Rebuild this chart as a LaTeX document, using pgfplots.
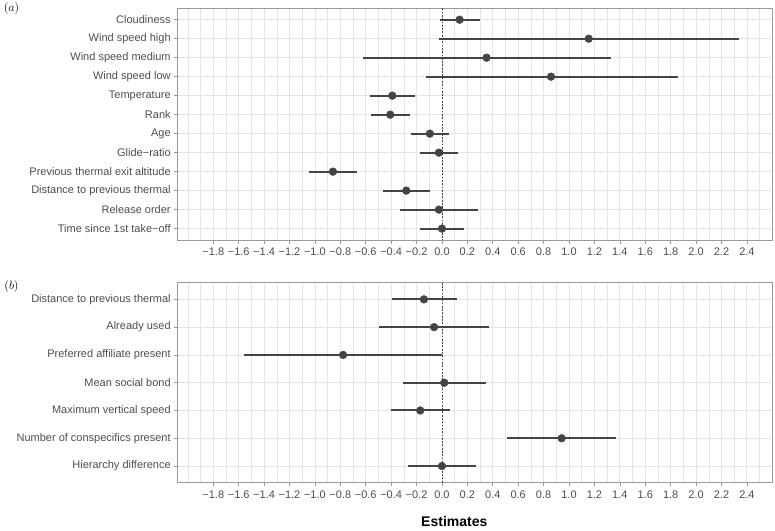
\documentclass[border=0pt]{standalone}
\usepackage{fontspec}
\setmainfont{Liberation Sans}
\usepackage{pgfplots}
\pgfplotsset{compat=1.18}
\usepackage{pgfplotstable}
\definecolor{pt}{HTML}{444444}
\definecolor{txt}{HTML}{4D4D4D}
\definecolor{frame}{HTML}{9A9A9A}
\definecolor{gridc}{HTML}{E5E5E5}

% estimates
\pgfplotstableread{
y est
1 0.139
2 1.155
3 0.351
4 0.858
5 -0.391
6 -0.407
7 -0.095
8 -0.024
9 -0.858
10 -0.281
11 -0.024
12 0.000
}\estA

% intervals (lo, hi per row, nan separates)
\pgfplotstableread{
x y
-0.019 1
0.299 1
nan nan
-0.024 2
2.335 2
nan nan
-0.622 3
1.331 3
nan nan
-0.129 4
1.858 4
nan nan
-0.570 5
-0.213 5
nan nan
-0.559 6
-0.252 6
nan nan
-0.247 7
0.055 7
nan nan
-0.176 8
0.126 8
nan nan
-1.047 9
-0.667 9
nan nan
-0.462 10
-0.097 10
nan nan
-0.331 11
0.281 11
nan nan
-0.173 12
0.170 12
}\ciA

\pgfplotstableread{
y est
1 -0.142
2 -0.062
3 -0.778
4 0.018
5 -0.171
6 0.942
7 0.000
}\estB

\pgfplotstableread{
x y
-0.396 1
0.118 1
nan nan
-0.494 2
0.370 2
nan nan
-1.562 3
0.001 3
nan nan
-0.307 4
0.344 4
nan nan
-0.402 5
0.064 5
nan nan
0.514 6
1.372 6
nan nan
-0.269 7
0.270 7
}\ciB

\pgfplotsset{fp/.style={
  scale only axis, width=594.6pt,
  xmin=-2.08, xmax=2.60, y dir=reverse,
  xtick={-1.8,-1.6,-1.4,-1.2,-1.0,-0.8,-0.6,-0.4,-0.2,0,0.2,0.4,0.6,0.8,1.0,1.2,1.4,1.6,1.8,2.0,2.2,2.4},
  xticklabels={−1.8,−1.6,−1.4,−1.2,−1.0,−0.8,−0.6,−0.4,−0.2,0.0,0.2,0.4,0.6,0.8,1.0,1.2,1.4,1.6,1.8,2.0,2.2,2.4},
  minor xtick={-2.0,-1.9,-1.7,-1.5,-1.3,-1.1,-0.9,-0.7,-0.5,-0.3,-0.1,0.1,0.3,0.5,0.7,0.9,1.1,1.3,1.5,1.7,1.9,2.1,2.3,2.5},
  grid=both,
  major grid style={draw=gridc, line width=0.8pt},
  minor grid style={draw=gridc, line width=0.5pt},
  axis line style={draw=frame, line width=0.8pt},
  tick style={draw=frame, line width=0.6pt},
  tick align=outside, major tick length=3.5pt, minor tick length=0pt,
  xtick pos=bottom, ytick pos=left,
  ticklabel style={font=\fontsize{11}{12}\selectfont, text=txt},
  xticklabel style={yshift=-1pt},
  anchor=north west,
  unbounded coords=jump,
}}

\begin{document}
\begin{tikzpicture}
\useasboundingbox (0,0) rectangle (775pt,-530pt);

\begin{axis}[fp, at={(177.7pt,-8.3pt)}, height=231.7pt,
  ymin=0.4, ymax=12.6, ytick={1,...,12},
  yticklabels={Cloudiness,Wind speed high,Wind speed medium,Wind speed low,Temperature,Rank,Age,Glide−ratio,Previous thermal exit altitude,Distance to previous thermal,Release order,Time since 1st take−off}]
\addplot[color=pt, line width=0.5pt, dash pattern=on 1.8pt off 1.5pt, forget plot] coordinates {(0,0.4) (0,12.6)};
\addplot[color=pt, line width=2pt, mark=none] table[x=x, y=y] {\ciA};
\addplot[only marks, mark=*, mark size=3.9pt, color=pt] table[x=est, y=y] {\estA};
\end{axis}

\begin{axis}[fp, at={(177.7pt,-282.7pt)}, height=200pt,
  ymin=0.4, ymax=7.6, ytick={1,...,7},
  yticklabels={Distance to previous thermal,Already used,Preferred affiliate present,Mean social bond,Maximum vertical speed,Number of conspecifics present,Hierarchy difference}]
\addplot[color=pt, line width=0.5pt, dash pattern=on 1.8pt off 1.5pt, forget plot] coordinates {(0,0.4) (0,7.6)};
\addplot[color=pt, line width=2pt, mark=none] table[x=x, y=y] {\ciB};
\addplot[only marks, mark=*, mark size=3.9pt, color=pt] table[x=est, y=y] {\estB};
\end{axis}

\node at (11.5pt,-9pt) {\fontsize{13}{14}\selectfont $(a)$};
\node at (11.5pt,-286pt) {\fontsize{13}{14}\selectfont $(b)$};
\node at (454.3pt,-521.7pt) {\fontsize{14}{16}\selectfont\bfseries Estimates};
\end{tikzpicture}
\end{document}
